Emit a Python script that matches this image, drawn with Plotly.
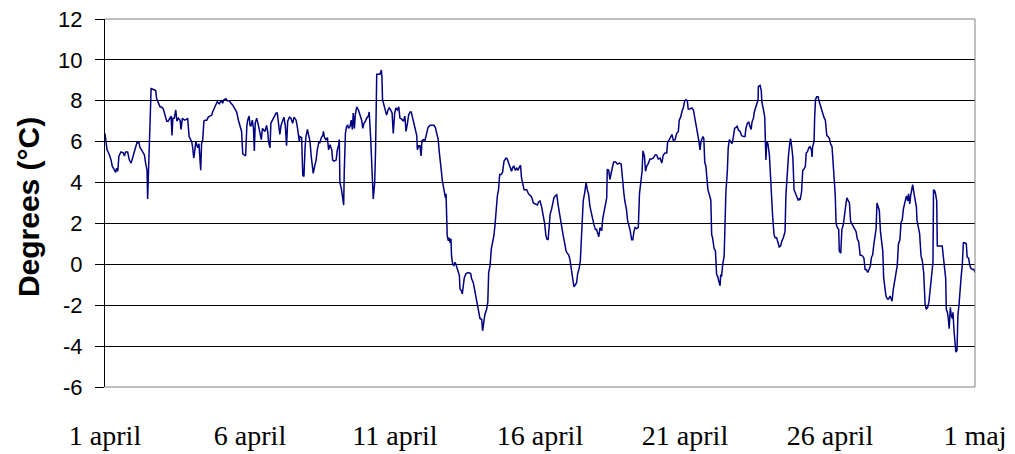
import pandas as pd
import plotly.graph_objects as go

# ---- data: time in days after 1 April 00:00, temperature in °C ----
d_a = [0.00,0.03,0.07,0.14,0.21,0.25,0.32,0.37,0.40,0.44,0.48,0.55,0.63,0.67,0.71,0.78,0.84,0.90,0.98,1.06,1.10,1.17,1.21,1.26,1.36,1.40,1.45,1.47,1.51,1.54,1.59,1.67,1.75,1.78,1.84,1.90,1.95,2.01,2.07,2.13,2.18,2.24,2.28,2.31,2.34,2.39,2.44,2.48,2.53,2.59,2.62,2.67,2.74,2.82,2.85,2.90,2.93,2.99,3.02,3.06,3.09,3.13,3.20,3.24,3.30,3.33]
t_a = [6.4,6.1,5.6,5.4,5.1,4.8,4.6,4.5,4.7,4.55,5.3,5.5,5.45,5.3,5.5,5.5,5.1,4.95,5.35,5.7,5.95,5.95,5.7,5.6,5.35,4.95,4.6,3.2,5.1,6.5,8.6,8.55,8.5,8.1,7.9,7.7,7.7,7.6,7.3,7.0,7.0,7.15,7.25,6.3,7.15,7.15,7.55,7.0,7.15,7.05,6.6,7.15,7.05,7.1,7.15,6.25,6.15,6.0,5.75,5.2,5.5,6.0,5.7,5.9,4.6,5.9]

d_b = [3.37,3.41,3.45,3.51,3.56,3.62,3.68,3.71,3.76,3.83,3.87,3.94,4.00,4.06,4.10,4.17,4.22,4.29,4.33,4.40,4.48,4.54,4.60,4.66,4.71,4.75,4.79,4.85,4.89,4.92,4.97,5.00,5.03,5.08,5.12,5.15,5.18,5.23,5.29,5.35,5.39,5.43,5.46,5.52,5.57,5.61,5.64,5.69,5.72,5.78,5.83,5.90,5.94,5.99,6.03,6.07,6.12,6.17,6.22,6.26,6.30,6.36,6.41,6.47,6.52,6.59,6.64,6.70]
t_b = [6.1,7.0,7.05,7.05,7.2,7.25,7.3,7.45,7.6,7.85,7.95,7.85,8.0,7.9,8.05,8.1,8.0,8.0,7.9,7.8,7.6,7.45,7.05,6.75,6.5,5.4,5.35,5.3,6.75,7.05,7.25,6.8,6.75,7.05,6.65,5.55,6.9,7.15,6.8,6.35,6.1,6.65,6.6,6.5,6.8,6.5,6.0,5.7,6.9,7.05,7.2,7.4,7.4,6.75,6.35,6.8,7.05,7.2,6.75,5.8,7.0,7.2,7.15,6.9,7.2,7.05,6.65,6.0]

d_c = [6.72,6.78,6.82,6.86,6.90,6.93,6.98,7.01,7.07,7.11,7.15,7.18,7.23,7.28,7.32,7.37,7.41,7.46,7.51,7.53,7.57,7.62,7.67,7.71,7.76,7.82,7.85,7.90,7.97,8.01,8.06,8.08,8.10,8.15,8.20,8.23,8.25,8.29,8.33,8.37,8.40,8.45,8.49,8.53,8.56,8.60,8.63,8.68,8.74,8.79,8.85,8.89,8.93,8.98,9.02,9.08,9.11,9.16,9.20,9.23,9.25,9.30,9.33,9.37,9.43,9.48,9.53,9.55,9.57,9.62,9.67,9.71,9.76,9.80,9.85,9.90,9.94,9.99,10.03,10.08,10.13]
t_c = [6.25,6.2,4.35,4.3,5.75,6.25,6.6,6.4,6.0,5.3,4.65,4.45,4.8,5.1,5.6,5.95,5.95,6.2,6.3,6.5,6.2,6.1,6.2,5.6,5.85,5.6,5.1,5.05,5.1,5.6,5.85,6.1,4.0,3.7,3.2,2.9,4.5,6.4,6.75,6.8,6.65,6.75,7.05,6.6,7.4,6.65,7.3,7.7,7.55,7.3,7.05,6.65,6.9,7.0,7.15,7.25,7.45,6.2,5.1,3.7,3.2,4.0,5.6,9.3,9.3,9.3,9.5,9.15,8.05,7.8,7.55,7.3,7.55,7.65,7.55,7.4,6.4,7.4,7.65,7.55,7.7]

d_d = [10.17,10.23,10.29,10.34,10.38,10.43,10.47,10.52,10.56,10.61,10.65,10.70,10.75,10.77,10.82,10.86,10.90,10.93,10.98,11.03,11.09,11.14,11.21,11.28,11.34,11.39,11.44,11.49,11.53,11.55,11.60,11.63,11.67,11.70,11.74,11.76,11.78,11.80,11.84,11.87,11.90,11.93,11.95,11.99,12.03,12.07,12.10,12.15,12.18,12.22,12.24,12.29,12.32,12.36,12.39,12.45,12.53,12.61,12.64,12.70,12.76,12.79,12.84,12.88,12.93,12.99,13.02,13.06,13.10,13.16,13.20,13.23,13.28,13.32,13.37,13.41,13.45,13.48,13.53,13.57,13.61]
t_d = [7.15,7.1,7.0,7.25,6.5,6.9,7.3,7.45,7.45,7.15,6.9,6.5,6.3,5.6,5.8,5.8,5.3,6.05,6.1,6.05,6.45,6.7,6.8,6.8,6.8,6.7,6.35,6.1,5.45,5.05,4.55,4.1,3.85,3.6,3.25,3.45,2.35,1.4,1.15,1.3,1.05,1.25,0.4,0.0,-0.05,0.1,0.0,-0.25,-0.4,-0.55,-1.2,-1.3,-1.45,-1.05,-0.65,-0.45,-0.4,-0.45,-0.7,-0.9,-1.35,-1.7,-2.0,-2.35,-2.65,-2.7,-3.25,-2.85,-2.45,-2.2,-1.85,-0.4,-0.05,0.75,1.05,1.4,1.95,2.7,3.35,3.65,4.4]

d_e = [13.66,13.71,13.76,13.83,13.87,13.92,13.97,14.02,14.06,14.10,14.15,14.20,14.24,14.29,14.33,14.36,14.40,14.45,14.49,14.54,14.59,14.63,14.68,14.72,14.77,14.82,14.86,14.91,14.95,15.00,15.05,15.08,15.12,15.16,15.20,15.23,15.28,15.31,15.35,15.40,15.44,15.48,15.53,15.58,15.62,15.67,15.71,15.76,15.80,15.85,15.90,15.94,15.99,16.03,16.08,16.13,16.17,16.22,16.26,16.30,16.35,16.39,16.43,16.46,16.49,16.54,16.59,16.63,16.68,16.72,16.77,16.82,16.86,16.91,16.95,17.00,17.03,17.07]
t_e = [4.4,4.5,5.05,5.2,5.15,4.9,4.75,4.55,4.75,4.8,4.6,4.7,4.6,4.75,4.85,4.25,3.9,3.65,3.65,3.65,3.5,3.4,3.35,3.25,3.0,2.95,2.95,2.9,3.05,3.1,2.85,2.6,2.35,2.0,1.45,1.25,1.2,1.8,2.45,2.7,2.95,3.25,3.35,3.4,2.95,2.5,2.0,1.7,1.4,1.05,0.65,0.55,0.45,0.25,-0.25,-0.65,-1.1,-1.0,-0.9,-0.45,-0.2,0.15,1.45,2.6,3.1,3.5,4.0,3.65,3.4,2.85,2.45,2.2,1.95,1.7,1.7,1.5,1.35,1.8]

d_f = [17.13,17.16,17.21,17.25,17.30,17.32,17.37,17.41,17.45,17.49,17.54,17.61,17.67,17.74,17.80,17.84,17.89,17.93,17.98,18.02,18.07,18.11,18.16,18.20,18.24,18.28,18.33,18.39,18.43,18.47,18.52,18.55,18.60,18.64,18.68,18.74,18.79,18.85,18.91,18.97,19.02,19.08,19.14,19.20,19.25,19.31,19.37,19.40,19.45,19.51,19.55,19.60,19.66,19.71,19.77,19.80,19.85,19.90,19.94,19.99,20.03,20.08,20.11,20.17,20.24,20.29,20.33,20.38,20.43,20.47,20.52]
t_f = [1.65,2.2,2.6,3.05,3.25,4.65,4.6,4.15,4.55,4.7,5.0,5.0,4.9,4.95,4.9,4.1,3.5,3.05,2.7,2.15,1.9,1.65,1.2,1.2,1.6,1.8,1.75,1.8,3.45,3.9,4.55,5.55,5.3,4.55,4.8,4.95,5.15,5.15,5.2,5.35,5.35,5.15,5.2,4.95,5.35,5.45,5.45,5.95,6.1,6.25,6.35,6.05,6.1,6.4,6.5,7.05,7.2,7.5,7.65,8.0,8.05,8.0,7.6,7.6,7.65,7.55,7.25,6.9,6.5,6.1,5.6]

d_g = [20.55,20.59,20.62,20.65,20.68,20.72,20.77,20.79,20.84,20.89,20.92,20.95,21.00,21.05,21.09,21.13,21.17,21.21,21.23,21.26,21.30,21.35,21.38,21.41,21.46,21.49,21.53,21.57,21.62,21.67,21.71,21.76,21.80,21.85,21.90,21.95,22.01,22.07,22.10,22.15,22.20,22.24,22.28,22.31,22.36,22.39,22.42,22.47,22.52,22.53,22.59,22.63,22.65,22.70,22.75,22.77,22.79,22.82,22.86,22.91,22.95,22.98,23.02,23.07,23.11,23.16,23.21,23.25,23.30,23.33,23.39,23.45,23.48,23.53,23.57,23.62,23.64,23.68,23.72,23.76,23.80,23.85,23.90,23.94]
t_g = [6.0,6.15,6.25,6.15,5.0,4.8,4.2,3.65,3.4,3.15,1.45,1.3,0.8,0.65,-0.5,-0.6,-0.85,-1.05,-0.5,-0.6,0.0,0.4,1.95,3.55,4.55,5.7,6.1,6.0,5.9,6.25,6.65,6.7,6.75,6.55,6.5,6.3,6.25,6.25,6.65,6.9,6.95,6.75,6.6,6.95,7.15,7.45,7.6,7.9,8.05,8.7,8.75,8.5,7.95,7.6,7.2,6.1,5.1,6.0,5.9,5.35,4.35,3.05,2.4,1.45,1.3,1.3,1.1,0.85,0.9,1.1,1.3,1.6,3.4,4.7,5.35,6.0,6.15,5.75,5.2,3.65,3.5,3.4,3.15,3.2]

d_h = [23.97,24.02,24.06,24.10,24.15,24.18,24.22,24.27,24.31,24.36,24.38,24.40,24.45,24.47,24.50,24.54,24.59,24.61,24.66,24.70,24.75,24.79,24.84,24.89,24.93,24.98,25.02,25.07,25.12,25.15,25.18,25.21,25.25,25.30,25.32,25.37,25.41,25.46,25.50,25.54,25.58,25.62,25.67,25.71,25.76,25.81,25.85,25.90,25.94,25.99,26.04,26.08,26.13,26.17,26.21,26.25,26.30,26.35,26.39,26.43,26.47,26.51,26.55,26.59,26.62,26.66,26.70,26.74,26.77,26.82,26.85,26.90,26.93,26.98,27.02,27.07,27.12,27.14,27.18,27.23,27.28,27.32,27.36,27.41]
t_h = [3.15,3.55,4.6,4.65,4.8,5.45,5.5,5.7,5.75,5.6,5.25,5.75,6.0,7.15,8.05,8.2,8.2,8.05,7.8,7.65,7.4,7.2,7.05,6.3,6.25,6.15,5.9,5.75,4.7,3.95,3.4,2.0,1.8,1.7,0.65,0.55,1.7,1.95,2.6,2.85,3.25,3.15,3.0,2.1,1.95,1.85,1.75,1.6,1.25,1.1,0.45,0.45,0.4,0.3,-0.25,-0.25,-0.4,-0.25,-0.1,0.35,0.45,0.95,1.35,1.75,3.0,2.85,2.65,1.6,1.1,0.65,-0.65,-1.3,-1.55,-1.7,-1.7,-1.55,-1.7,-1.8,-1.25,-0.85,-0.35,-0.05,1.0,1.2]

d_i = [27.45,27.49,27.53,27.56,27.61,27.64,27.68,27.71,27.75,27.78,27.82,27.85,27.90,27.93,27.98,28.00,28.05,28.09,28.14,28.18,28.23,28.25,28.28,28.32,28.37,28.41,28.46,28.51,28.55,28.57,28.61,28.64,28.68,28.70,28.76,28.82,28.87,28.91,28.95,28.99,29.01,29.05,29.08,29.11,29.15,29.18,29.22,29.24,29.28,29.31,29.34,29.38,29.41,29.45,29.48,29.52,29.56,29.60,29.65,29.70,29.73,29.78,29.82,29.86,29.92,29.97,30.00]
t_i = [2.05,2.15,2.7,2.95,3.2,3.35,3.1,3.45,2.95,3.35,3.6,3.9,3.45,3.2,2.8,2.15,1.8,1.5,0.4,0.2,-0.4,-1.35,-1.95,-2.2,-2.1,-1.85,-1.05,-0.55,0.1,3.65,3.6,3.45,3.1,0.9,0.9,0.9,0.9,0.35,-0.25,-0.7,-2.2,-2.35,-2.65,-3.15,-2.1,-2.5,-2.65,-2.35,-3.3,-3.8,-4.3,-4.2,-2.5,-1.95,-1.2,-0.65,-0.05,1.05,1.05,1.0,0.35,0.3,-0.05,-0.2,-0.25,-0.25,-0.4]

start_date = "2001-04-01"
end_date = "2001-05-01"
tick_dates = ["2001-04-01", "2001-04-06", "2001-04-11", "2001-04-16",
              "2001-04-21", "2001-04-26", "2001-05-01"]
tick_labels = ["1 april", "6 april", "11 april", "16 april",
               "21 april", "26 april", "1 maj"]
y_ticks = [-6, -4, -2, 0, 2, 4, 6, 8, 10, 12]
y_tick_labels = ["-6", "-4", "-2", "0", "2", "4", "6", "8", "10", "12"]
y_title = "Degrees (°C)"

segments = [(d_a, t_a), (d_b, t_b), (d_c, t_c), (d_d, t_d), (d_e, t_e),
            (d_f, t_f), (d_g, t_g), (d_h, t_h), (d_i, t_i)]
days, temps = [], []
for k, (d, t) in enumerate(segments):
    assert len(d) == len(t), (k, len(d), len(t))
    days += d
    temps += t

times = pd.Timestamp(start_date) + pd.to_timedelta(days, unit="D")

fig = go.Figure()
fig.add_trace(go.Scatter(x=times, y=temps, mode="lines",
                         line=dict(color="#000080", width=1.5),
                         hoverinfo="skip", showlegend=False))

grey = "#808080"
fig.update_layout(
    width=1015, height=454,
    margin=dict(l=105, r=40, t=19, b=67),
    paper_bgcolor="white", plot_bgcolor="white",
    xaxis=dict(type="date", range=[start_date, end_date], automargin=False,
               tickmode="array", tickvals=tick_dates, ticktext=tick_labels,
               ticks="", showgrid=False, zeroline=False,
               showline=False,
               tickfont=dict(family="Liberation Serif", size=28, color="black"),
               ticklabelstandoff=29),
    yaxis=dict(range=[-6, 12], automargin=False,
               tickmode="array", tickvals=y_ticks, ticktext=y_tick_labels,
               ticks="outside", ticklen=9, tickcolor="black", tickwidth=1,
               showgrid=True, gridcolor="black", gridwidth=1,
               zeroline=False, showline=True, linecolor="black", linewidth=1,
               tickfont=dict(family="Liberation Sans", size=22, color="black"),
               ticklabelstandoff=8),
    annotations=[dict(text="<b>" + y_title + "</b>", textangle=-90,
                      xref="paper", yref="paper", x=-0.088, y=0.49,
                      xanchor="center", yanchor="middle", showarrow=False,
                      font=dict(family="Liberation Sans", size=30, color="black"))],
    shapes=[
        dict(type="line", xref="paper", yref="paper", x0=0, x1=1, y0=1, y1=1,
             line=dict(color=grey, width=1), layer="above"),
        dict(type="line", xref="paper", yref="paper", x0=1, x1=1, y0=0, y1=1,
             line=dict(color=grey, width=1), layer="above"),
        dict(type="line", xref="paper", yref="paper", x0=0, x1=1, y0=0, y1=0,
             line=dict(color=grey, width=1), layer="above"),
    ],
)

fig.write_html("out.html", config={"displayModeBar": False},
               post_script="document.body.style.margin='0';")
